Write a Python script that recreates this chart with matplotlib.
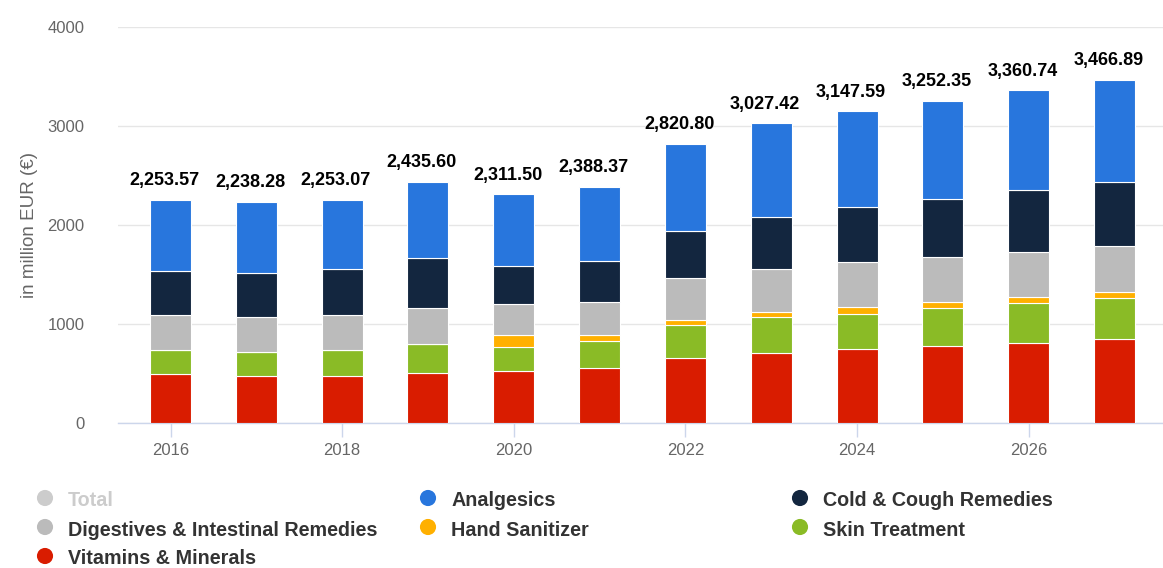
import matplotlib
matplotlib.use("Agg")
import matplotlib.pyplot as plt
import numpy as np

plt.rcParams['font.family'] = ['Liberation Sans', 'DejaVu Sans']

years = [2016, 2017, 2018, 2019, 2020, 2021, 2022, 2023, 2024, 2025, 2026, 2027]
totals = [2253.57, 2238.28, 2253.07, 2435.60, 2311.50, 2388.37, 2820.80, 3027.42,
          3147.59, 3252.35, 3360.74, 3466.89]
vitamins = [494, 477, 477, 511, 528, 561, 662, 712, 747, 780, 813, 848]
skin = [246, 246, 263, 286, 245, 269, 333, 364, 356, 380, 398, 413]
hand = [0, 0, 0, 0, 118, 64, 50, 50, 71, 61, 63, 64]
digestives = [353, 353, 353, 363, 316, 333, 418, 434, 454, 454, 452, 467]
cold = [444, 444, 461, 511, 380, 414, 474, 525, 558, 591, 625, 643]
analgesics = [t - (v + s + h + d + c) for t, v, s, h, d, c in
              zip(totals, vitamins, skin, hand, digestives, cold)]

series_names = ["Vitamins & Minerals", "Skin Treatment", "Hand Sanitizer",
                "Digestives & Intestinal Remedies", "Cold & Cough Remedies", "Analgesics"]
series_values = [vitamins, skin, hand, digestives, cold, analgesics]
series_colors = ["#D91C00", "#8ABB26", "#FFB000", "#BBBBBB", "#13263F", "#2876DD"]

legend_order = ["Total", "Analgesics", "Cold & Cough Remedies",
                "Digestives & Intestinal Remedies", "Hand Sanitizer", "Skin Treatment",
                "Vitamins & Minerals"]
xtick_years = [2016, 2018, 2020, 2022, 2024, 2026]
yticks = [0, 1000, 2000, 3000, 4000]

W, H = 1163, 568
fig = plt.figure(figsize=(W / 100, H / 100), dpi=100)
ax_left, ax_right, ax_bottom, ax_top = 118, 1163, 423.3, 27
ax = fig.add_axes([ax_left / W, 1 - ax_bottom / H, (ax_right - ax_left) / W,
                   (ax_bottom - ax_top) / H])

x = np.array(years, dtype=float)
bottom = np.zeros(len(years))
for name, vals, col in zip(series_names, series_values, series_colors):
    vals = np.array(vals, dtype=float)
    ax.bar(x, vals, bottom=bottom, width=0.478, color=col, edgecolor='white',
           linewidth=0.8, zorder=3)
    bottom += vals

for xi, t in zip(x, totals):
    ax.annotate(f"{t:,.2f}", (xi, t), xytext=(-4.5, 10.5), textcoords='offset points',
                ha='center', va='baseline', fontsize=13, fontweight='bold',
                color='#000000', zorder=5)

ax.set_xlim(2016 - 0.612, 2027.565)
ax.set_ylim(0, 4000)
ax.set_yticks(yticks)
ax.set_yticklabels([str(v) for v in yticks])
ax.set_xticks(xtick_years)
ax.set_xticklabels([str(v) for v in xtick_years])
ax.tick_params(axis='y', length=0, pad=24, labelsize=12, labelcolor='#666666')
ax.tick_params(axis='x', length=10, width=1, color='#CCD6EB', pad=4,
               labelsize=12, labelcolor='#666666')
for sp in ['top', 'right', 'left']:
    ax.spines[sp].set_visible(False)
ax.spines['bottom'].set_color('#CCD6EB')
ax.spines['bottom'].set_linewidth(1)
ax.yaxis.grid(True, color='#E6E6E6', linewidth=1, zorder=0)
ax.set_axisbelow(True)
ax.set_ylabel("in million EUR (€)", fontsize=13.5, color='#666666', labelpad=7)

# Legend in a pixel-coordinate overlay axes
lax = fig.add_axes([0, 0, 1, 1], facecolor='none')
lax.set_xlim(0, W)
lax.set_ylim(H, 0)
lax.axis('off')
color_map = dict(zip(series_names, series_colors))
color_map["Total"] = "#CCCCCC"
col_x = [45, 428, 800]
row_y = [498, 527, 556]
for i, name in enumerate(legend_order):
    r, c = divmod(i, 3)
    mx, my = col_x[c], row_y[r]
    lax.scatter([mx], [my], s=135, color=color_map[name], edgecolors='none')
    lax.text(mx + 23, my + 3, name, fontsize=14.2, fontweight='bold',
             color='#CCCCCC' if name == "Total" else '#333333',
             ha='left', va='center')

fig.savefig("out.png", dpi=100)
